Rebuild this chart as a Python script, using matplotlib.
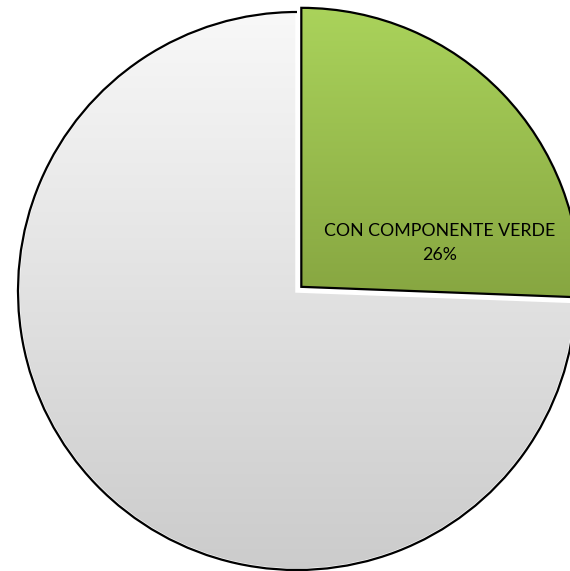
import numpy as np
import matplotlib
matplotlib.use("Agg")
import matplotlib.pyplot as plt
from matplotlib.patches import Arc

labels = ["CON COMPONENTE VERDE", ""]
values = [25.6, 74.4]
shown_pct = ["26%", ""]

fig = plt.figure(figsize=(5.70, 5.71), dpi=100)
ax = fig.add_axes([0, 0, 1, 1])

# explode is in data units (pixels here)
wedges, _ = ax.pie(values, startangle=90, counterclock=False,
                   center=(297, 280), radius=279, explode=[6, 0],
                   colors=["#9bc04e", "#e4e4e4"],
                   wedgeprops=dict(edgecolor="black", linewidth=1.6),
                   frame=True)
ax.set_xlim(0, 570)
ax.set_ylim(0, 571)
ax.set_aspect("auto")
ax.axis("off")

# vertical gradients clipped to each wedge, spanning each wedge's height
grads = [("#aad35b", "#87a641"), ("#f8f8f8", "#cbcbcb")]
for w, (top, bot) in zip(wedges, grads):
    verts = w.get_path().vertices
    y0, y1 = verts[:, 1].min(), verts[:, 1].max()
    c1 = np.array(matplotlib.colors.to_rgb(top))
    c2 = np.array(matplotlib.colors.to_rgb(bot))
    t = np.linspace(0, 1, 256)[:, None]
    img = (c1 * (1 - t) + c2 * t)[:, None, :]
    im = ax.imshow(img, extent=(0, 570, y0, y1), aspect="auto",
                   zorder=w.get_zorder() + 0.1, origin="upper")
    im.set_clip_path(w)
    w.set_facecolor("none")
    w.set_zorder(w.get_zorder() + 0.2)

# grey slice: white bevel on the straight edges, black outline only on the arc
g = wedges[1]
g.set_edgecolor("white")
g.set_linewidth(2.5)
ax.add_patch(Arc(g.center, 2 * g.r, 2 * g.r, theta1=g.theta1, theta2=g.theta2,
                 color="black", linewidth=1.6, zorder=g.get_zorder() + 0.1))

ax.set_xlim(0, 570)
ax.set_ylim(0, 571)

ax.text(440, 571 - 243, labels[0] + "\n" + shown_pct[0], ha="center", va="center",
        fontsize=12.8, family="Lato", linespacing=1.6, color="black", zorder=5)

fig.savefig("out.png", dpi=100)
